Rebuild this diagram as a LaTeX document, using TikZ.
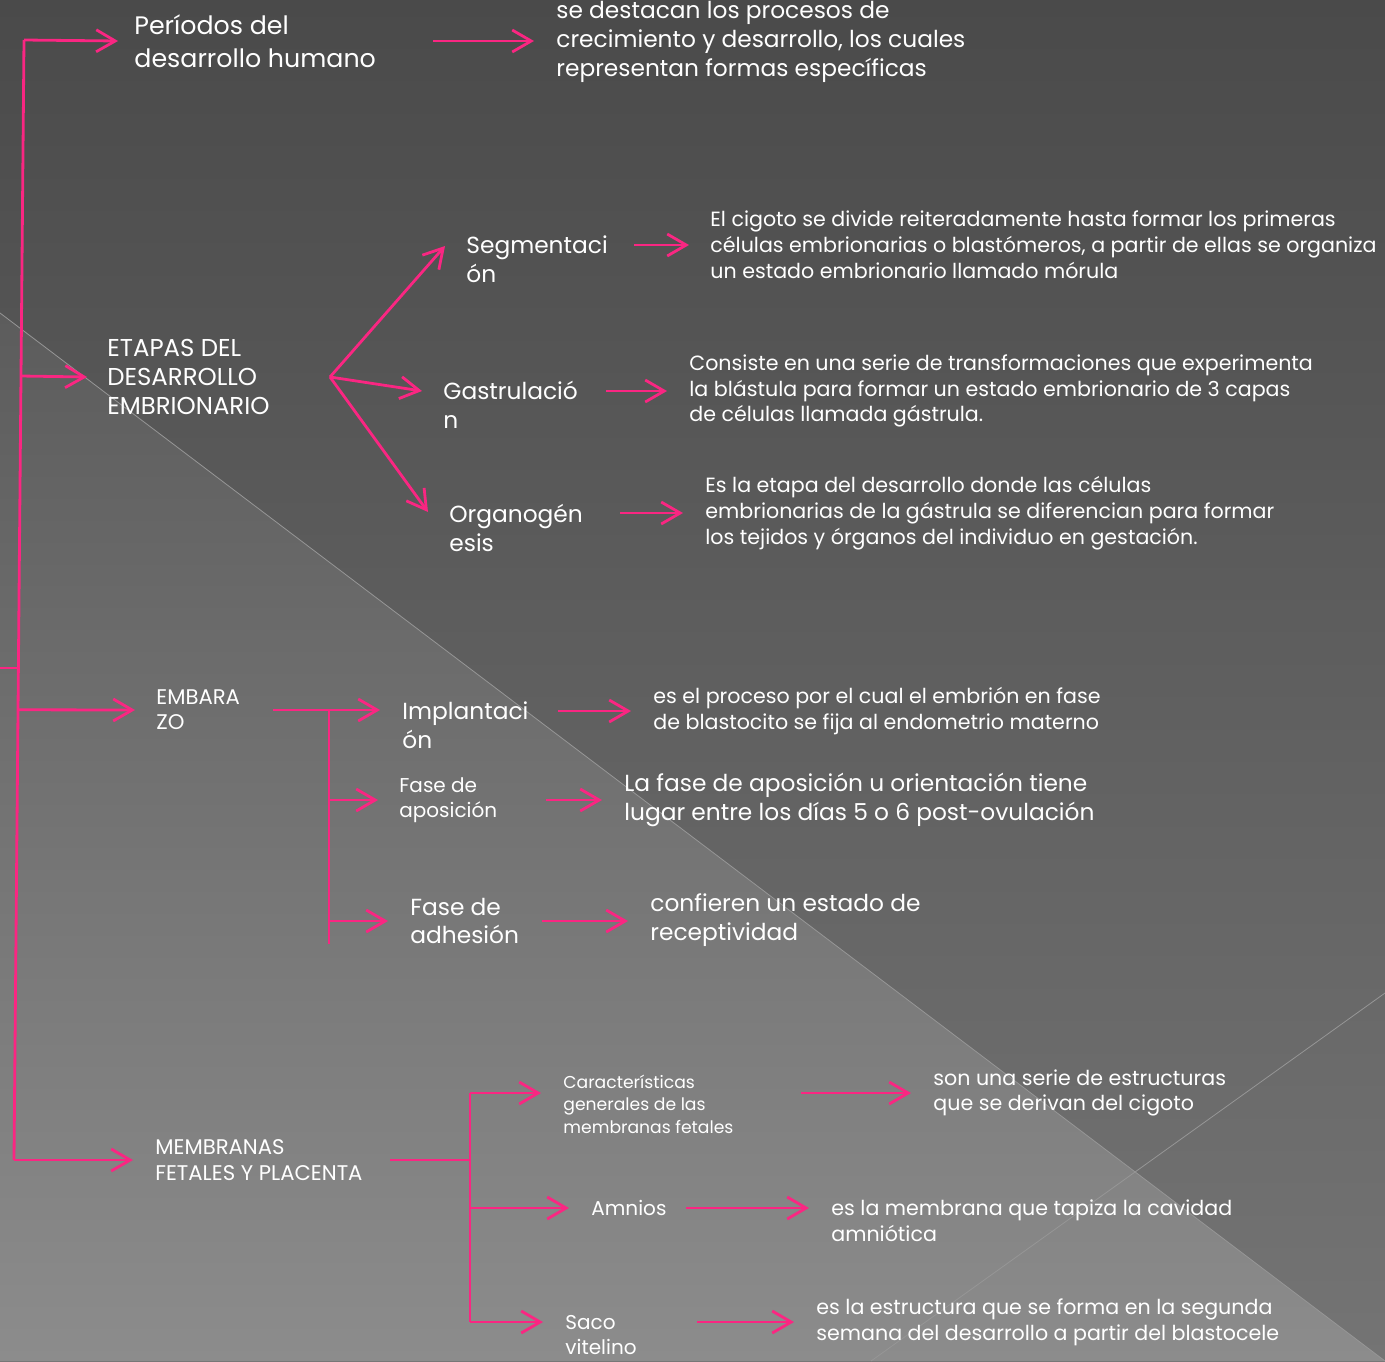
\documentclass[tikz,border=0pt]{standalone}
\usepackage{fontspec}
\setmainfont{Poppins}
\usetikzlibrary{arrows.meta,calc}

\definecolor{pinkln}{RGB}{250,38,130}
\definecolor{bgtop}{RGB}{74,74,74}
\definecolor{bgbot}{RGB}{116,116,116}
\definecolor{bgltop}{RGB}{92,92,92}
\definecolor{bglbot}{RGB}{140,140,140}
\definecolor{diag}{RGB}{150,150,150}

\begin{document}
\begin{tikzpicture}[x=0.5pt,y=-0.5pt,
  ln/.style={pinkln, line width=1.4pt},
  arr/.style={ln, -{Straight Barb[length=9.5pt,width=11pt,line width=1.4pt]}},
  txt/.style={anchor=west, inner sep=0pt, align=left, text=white},
  hd/.style={txt, font=\fontsize{12.65pt}{16.5pt}\selectfont},
  lg/.style={txt, font=\fontsize{11.65pt}{14.3pt}\selectfont},
  cp/.style={txt, font=\fontsize{12.2pt}{14.5pt}\selectfont},
  ds/.style={txt, font=\fontsize{10.3pt}{12.9pt}\selectfont},
  md/.style={txt, font=\fontsize{10pt}{12.8pt}\selectfont},
  sm/.style={txt, font=\fontsize{10.6pt}{12.6pt}\selectfont},
  xs/.style={txt, font=\fontsize{8.6pt}{11.3pt}\selectfont}]
  \useasboundingbox (0,0) rectangle (1385,1361);

  % background
  \shade[top color=bgtop, bottom color=bgbot] (0,0) rectangle (1385,1361);
  \shade[top color=bgltop, bottom color=bglbot] (0,313) -- (1385,1361) -- (0,1361) -- cycle;
  \draw[diag, line width=0.4pt] (0,313) -- (1385,1361);
  \draw[diag, line width=0.4pt] (871,1361) -- (1385,993);

  % first level
  \node[hd] (per) at (134,41) {Períodos del\\desarrollo humano};
  \node[lg] (perdesc) at (556,42) {se destacan los procesos de\\crecimiento y desarrollo, los cuales\\representan formas específicas};
  \node[cp] (eta) at (107,377) {ETAPAS DEL\\DESARROLLO\\EMBRIONARIO};
  \node[sm] (emb) at (156,710) {EMBARA\\ZO};
  \node[sm] (mem) at (155,1160) {MEMBRANAS\\FETALES Y PLACENTA};

  % embryo stages
  \node[lg] (seg) at (466,259) {Segmentaci\\ón};
  \node[ds] (segdesc) at (710,245) {El cigoto se divide reiteradamente hasta formar los primeras\\células embrionarias o blastómeros, a partir de ellas se organiza\\un estado embrionario llamado mórula};
  \node[lg] (gas) at (443,405) {Gastrulació\\n};
  \node[ds] (gasdesc) at (689,391) {Consiste en una serie de transformaciones que experimenta\\la blástula para formar un estado embrionario de 3 capas\\de células llamada gástrula.};
  \node[lg] (org) at (449,528) {Organogén\\esis};
  \node[ds] (orgdesc) at (705,513) {Es la etapa del desarrollo donde las células\\embrionarias de la gástrula se diferencian para formar\\los tejidos y órganos del individuo en gestación.};

  % pregnancy
  \node[lg] (imp) at (402,725) {Implantaci\\ón};
  \node[ds] (impdesc) at (653,711) {es el proceso por el cual el embrión en fase\\de blastocito se fija al endometrio materno};
  \node[md] (apo) at (399,800) {Fase de\\aposición};
  \node[lg] (apodesc) at (624,800) {La fase de aposición u orientación tiene\\lugar entre los días 5 o 6 post-ovulación};
  \node[lg] (adh) at (410,921) {Fase de\\adhesión};
  \node[lg] (adhdesc) at (650,920) {confieren un estado de\\receptividad};

  % membranes
  \node[xs] (car) at (563,1104) {Características\\generales de las\\membranas fetales};
  \node[ds] (cardesc) at (933,1093) {son una serie de estructuras\\que se derivan del cigoto};
  \node[md] (amn) at (591,1208) {Amnios};
  \node[ds] (amndesc) at (831,1221) {es la membrana que tapiza la cavidad\\amniótica};
  \node[md] (sac) at (565,1335) {Saco\\vitelino};
  \node[ds] (sacdesc) at (816,1322) {es la estructura que se forma en la segunda\\semana del desarrollo a partir del blastocele};

  % main trunk
  \coordinate (top) at (24,40);
  \coordinate (bot) at (14,1160);
  \coordinate (stubL) at (0,668);
  \coordinate (stubR) at (18,668);
  \draw[ln] (top) -- (bot);
  \draw[ln] (stubL) -- (stubR);
  \draw[arr] (top) -- ($(per.west)+(-16,0)$);
  \draw[arr] ($(top)!0.3!(bot)$) -- ($(eta.west)+(-20,0)$);
  \draw[arr] ($(top)!0.598!(bot)$) -- ($(emb.west)+(-21,0)$);
  \draw[arr] (bot) -- ($(mem.west)+(-22,0)$);
  \draw[arr] ($(per.west)+(299,0)$) -- ($(per.west -| perdesc.west)+(-22,0)$);

  % fork of the stages
  \coordinate (fork) at ($(eta.west)+(223,0)$);
  \draw[arr] (fork) -- ($(seg.west)+(-21,-13)$);
  \draw[arr] (fork) -- ($(gas.west)+(-21,-14)$);
  \draw[arr] (fork) -- ($(org.west)+(-21,-16)$);
  \draw[arr] ($(seg.west |- segdesc.west)+(168,0)$) -- ($(segdesc.west)+(-21,0)$);
  \draw[arr] ($(gas.west |- gasdesc.west)+(163,0)$) -- ($(gasdesc.west)+(-22,0)$);
  \draw[arr] ($(org.west |- orgdesc.west)+(171,0)$) -- ($(orgdesc.west)+(-22,0)$);

  % pregnancy branch
  \coordinate (ej) at ($(emb.west)+(173,0)$);
  \draw[arr] ($(emb.west)+(117,0)$) -- ($(imp.west |- emb.west)+(-22,0)$);
  \draw[ln] (ej) -- ($(ej)+(0,234)$);
  \draw[arr] (ej |- apo.west) -- ($(apo.west)+(-21,0)$);
  \draw[arr] (ej |- adh.west) -- ($(adh.west)+(-22,0)$);
  \draw[arr] ($(imp.west |- impdesc.west)+(156,0)$) -- ($(impdesc.west)+(-22,0)$);
  \draw[arr] ($(apo.west |- apodesc.west)+(147,0)$) -- ($(apodesc.west)+(-22,0)$);
  \draw[arr] ($(adh.west)+(132,0)$) -- ($(adh.west -| adhdesc.west)+(-22,0)$);

  % membranes branch
  \coordinate (mj) at ($(mem.west)+(315,0)$);
  \draw[ln] ($(mem.west)+(235,0)$) -- (mj);
  \draw[ln] (mj |- cardesc.west) -- (mj |- sacdesc.west);
  \draw[arr] (mj |- cardesc.west) -- ($(car.west |- cardesc.west)+(-22,0)$);
  \draw[arr] (mj |- amn.west) -- ($(amn.west)+(-22,0)$);
  \draw[arr] (mj |- sacdesc.west) -- ($(sac.west |- sacdesc.west)+(-22,0)$);
  \draw[arr] ($(car.west |- cardesc.west)+(238,0)$) -- ($(cardesc.west)+(-22,0)$);
  \draw[arr] ($(amn.west)+(95,0)$) -- ($(amn.west -| amndesc.west)+(-22,0)$);
  \draw[arr] ($(sac.west |- sacdesc.west)+(132,0)$) -- ($(sacdesc.west)+(-22,0)$);
\end{tikzpicture}
\end{document}
